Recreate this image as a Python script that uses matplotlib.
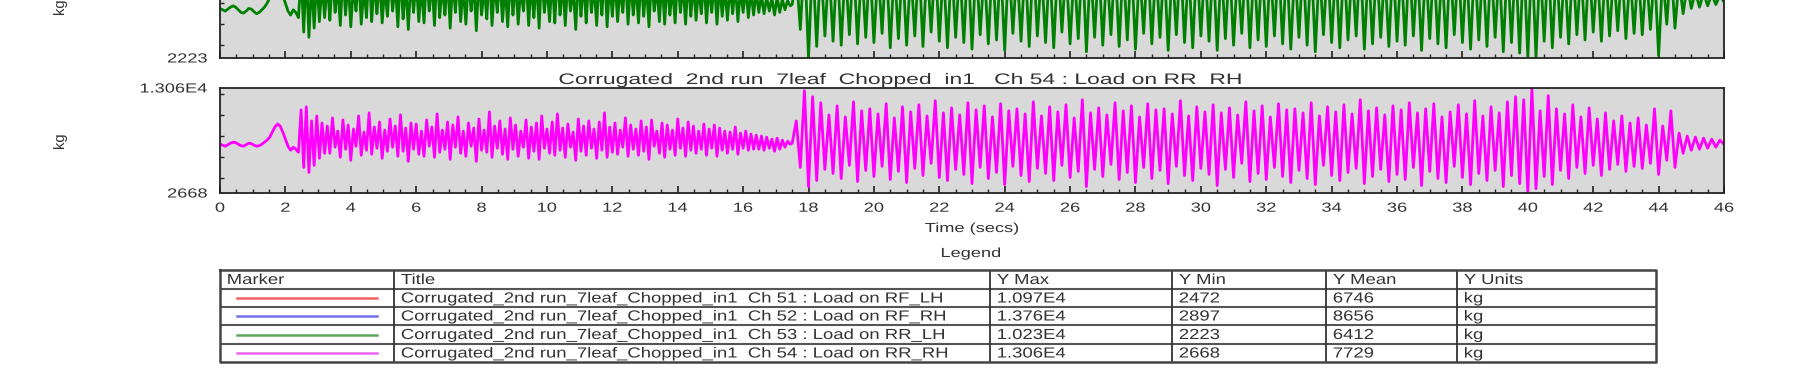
import numpy as np
import matplotlib.pyplot as plt
from matplotlib.ticker import MultipleLocator
from matplotlib.patheffects import AbstractPathEffect
from matplotlib.transforms import Affine2D

plt.rcParams['font.family'] = ['Liberation Sans', 'DejaVu Sans']

# ---- data ----
# sample steps: dense part 0..17.44 s every 0.08 s, oscillating part 17.5..46 s every 0.125 s
dt_dense = 0.08
t_osc0 = 17.5
dt_osc = 0.125

# Ch 53 : Load on RR_LH (green, only lower part visible)
rr_lh_dense = [
    6000, 5900, 5800, 5950, 6100, 6200, 6100, 5900, 5700, 5650, 5800, 6000, 5950, 5750, 5600, 5700, 5900, 6100, 6400, 6800, 7200,
    7600, 7900, 7500, 7000, 6400, 5800, 5500, 5900, 5700, 5300,
    8600, 4200, 8900, 3800, 8100, 4500, 8400, 5000, 7900, 5300,
    8000, 5100, 8600, 5700, 7700, 4700, 8700, 5500, 8200, 4600,
    7800, 5800, 8500, 4800, 7600, 5300, 9000, 5000, 8100, 5600,
    8400, 4900, 7700, 5400, 8500, 5800, 8000, 4600, 8800, 5200,
    7900, 4400, 8300, 5700, 8200, 5000, 7700, 4900, 8600, 5800,
    8100, 4700, 8900, 5300, 7800, 5500, 8400, 4500, 8200, 5700,
    8700, 5000, 7700, 4800, 8300, 5800, 8000, 4300, 8500, 5500,
    7600, 5200, 9000, 4700, 8100, 5700, 8400, 5000, 7800, 4600,
    8600, 5500, 8200, 4800, 7700, 5800, 8500, 4700, 8000, 5300,
    8300, 4500, 8800, 5700, 7800, 5000, 8400, 4900, 8900, 5500,
    8000, 4700, 8300, 5800, 7700, 4400, 8600, 5400, 8200, 4900,
    8500, 5700, 7800, 4700, 8400, 5500, 9000, 4600, 8100, 5400,
    8300, 5000, 7700, 5700, 8600, 4800, 8200, 5500, 7800, 4900,
    8400, 5400, 8000, 4600, 8500, 5800, 7600, 5000, 8300, 4800,
    8200, 5500, 7700, 4900, 8600, 5700, 7800, 4800, 8300, 5400,
    8000, 5100, 7600, 5600, 8200, 4900, 7700, 5700, 8100, 4800,
    7900, 5400, 7600, 5100, 7700, 5600, 7800, 5000, 7500, 5700,
    7600, 5300, 7400, 5500, 7300,
    5700, 7000, 5600, 6900, 5800, 6800, 5500, 6900, 5700, 6700, 5900, 6600, 6200,
]
rr_lh_osc = [
    6300, 8700, 4400, 10200, 2250, 9900, 3100, 9600, 3900, 9300,
    3500, 9700, 3200, 9200, 4000, 9800, 3300, 9400, 3800, 9600,
    3400, 9100, 4100, 9900, 3000, 9300, 3700, 9500, 3200, 9000,
    3900, 9700, 3100, 9400, 4200, 9800, 3500, 9200, 3000, 9600,
    3800, 9300, 3400, 10000, 2900, 9500, 4000, 9100, 3300, 9700,
    3600, 9400, 2800, 9800, 4100, 9200, 3500, 9600, 3100, 9900,
    3900, 9000, 3400, 9500, 3000, 9700, 4200, 9300, 3300, 9100,
    3700, 10100, 2700, 9400, 3800, 9600, 3200, 9200, 4000, 9800,
    3100, 9500, 3600, 9700, 2900, 9100, 4100, 9900, 3300, 9400,
    3800, 9600, 2800, 9300, 4000, 10000, 3400, 9200, 3000, 9700,
    3900, 9500, 3500, 9800, 2800, 9300, 3700, 9600, 3200, 9100,
    4100, 9900, 3000, 9400, 3600, 9700, 3100, 9200, 3900, 9800,
    3300, 9500, 2900, 9300, 3800, 9600, 3200, 9900, 2700, 9200,
    4000, 9700, 3400, 9400, 3000, 9800, 3600, 9300, 3900, 10100,
    2900, 9500, 3300, 9600, 3800, 9100, 3100, 9700, 3500, 9400,
    3200, 9900, 3900, 9300, 2800, 9500, 3700, 9800, 3300, 9200,
    3000, 9600, 4000, 9700, 3400, 9300, 2900, 10000, 3600, 9400,
    3100, 9600, 3800, 9200, 2700, 9900, 3400, 9800, 2600, 10100,
    2240, 10230, 2300, 9500, 3500, 9900, 3000, 9400, 3800, 9200,
    3300, 9600, 4000, 9100, 3600, 9500, 4200, 9000, 3500, 9300,
    3900, 8900, 4300, 9200, 3700, 8800, 4100, 9100, 4000, 8700,
    4400, 9000, 2400, 8600, 4800, 9400, 4500, 8200, 5600, 7800,
    6000, 7300, 6100, 7200, 6200, 7100, 6300, 7000, 6500,
]

# Ch 54 : Load on RR_RH (magenta)
rr_rh_dense = [
    7500, 7400, 7300, 7450, 7600, 7700, 7650, 7500, 7350, 7300, 7450, 7600, 7550, 7400, 7300, 7350, 7500, 7700, 7900, 8200, 8700,
    9200, 9500, 9300, 8700, 8000, 7300, 6900, 7200, 7000, 6700,
    10900, 5200, 11200, 4700, 9800, 5400, 10300, 6100, 9600, 6600,
    9300, 6600, 10100, 7200, 8800, 6200, 9900, 7000, 9400, 5900,
    9000, 7300, 10300, 6400, 8700, 6900, 10600, 6500, 9200, 7100,
    9700, 6100, 8900, 6800, 10000, 7200, 9300, 6300, 10400, 6800,
    9100, 5800, 9600, 7000, 9500, 6500, 8800, 6300, 9900, 7300,
    9200, 6200, 10500, 6700, 8900, 7000, 9700, 6000, 9400, 7200,
    10200, 6600, 8800, 6300, 9600, 7300, 9100, 5800, 10000, 6900,
    8900, 6700, 10700, 6200, 9300, 7100, 9800, 6500, 9000, 6000,
    10100, 7000, 9400, 6300, 8800, 7200, 9900, 6100, 9200, 6800,
    9600, 6000, 10300, 7100, 9000, 6600, 9700, 6400, 10500, 6900,
    9100, 6200, 9500, 7200, 8700, 5900, 10000, 6800, 9300, 6400,
    9800, 7100, 9000, 6100, 9700, 6900, 10600, 6200, 9200, 6700,
    9600, 6500, 8900, 7200, 10100, 6300, 9400, 7000, 9000, 6400,
    9800, 6800, 9200, 6000, 9900, 7300, 8800, 6600, 9600, 6200,
    9400, 7000, 8900, 6400, 10000, 7100, 9100, 6300, 9700, 6900,
    9300, 6600, 8800, 7000, 9500, 6400, 9000, 7100, 9400, 6300,
    9100, 6900, 8800, 6600, 8700, 7000, 9200, 6500, 8600, 7100,
    8800, 6900, 8500, 7000, 8400,
    7000, 8300, 6900, 8200, 7100, 8000, 6800, 8100, 7000, 7900, 7200, 7800, 7500,
]
rr_rh_osc = [
    7600, 9800, 5200, 12800, 3300, 12200, 3900, 11600, 5000, 10400,
    4600, 11300, 4100, 10200, 5400, 11700, 3800, 10800, 4900, 11000,
    4300, 10500, 5300, 11500, 4000, 10100, 4800, 11200, 3700, 10700,
    5100, 11400, 4400, 10300, 5600, 11800, 4200, 10600, 3900, 11100,
    5000, 10400, 4500, 11600, 3600, 10900, 5200, 11300, 4100, 10200,
    4700, 11500, 3500, 10800, 5300, 11000, 4400, 10500, 3800, 11700,
    5100, 10300, 4600, 11200, 3900, 10700, 5400, 11400, 4200, 10100,
    4800, 11900, 3300, 10600, 5000, 11100, 4300, 10400, 5500, 11600,
    4000, 10800, 4700, 11300, 3700, 10200, 5200, 11500, 4100, 10900,
    4900, 11000, 3600, 10500, 5300, 11800, 4400, 10300, 3900, 11200,
    5100, 10700, 4500, 11400, 3400, 10600, 5000, 11100, 4200, 10400,
    5600, 11700, 3800, 10800, 4600, 11300, 4000, 10200, 5200, 11500,
    4300, 10900, 3700, 11000, 4900, 10600, 4100, 11600, 3500, 10300,
    5400, 11200, 4400, 10700, 3900, 11400, 4700, 10500, 5100, 11900,
    3600, 10800, 4300, 11100, 5000, 10400, 3800, 11300, 4500, 10900,
    4000, 11600, 5200, 10600, 3400, 11000, 4800, 11500, 4100, 10200,
    3700, 10700, 5300, 11400, 4200, 10500, 3500, 11800, 4600, 10300,
    3900, 11200, 4900, 10600, 3300, 11700, 4400, 12200, 3600, 11900,
    2700, 13000, 3100, 10800, 4300, 12300, 3500, 11000, 4900, 10500,
    4100, 11400, 5200, 10200, 4600, 11100, 5400, 10000, 4400, 10600,
    5000, 9800, 5500, 10300, 4800, 9600, 5300, 10100, 5100, 9400,
    5600, 11000, 4500, 9300, 5900, 10800, 5200, 8600, 6600, 8300,
    6900, 8200, 7000, 8100, 7100, 8000, 7200, 7900, 7500,
]

rr_lh_lim = (2223, 10230)
rr_rh_lim = (2668, 13060)
rr_lh_ticklabels = ["2223", "1.023E4"]
rr_rh_ticklabels = ["2668", "1.306E4"]
x_max = 46

# legend table
tab_header = ["Marker", "Title", "Y Max", "Y Min", "Y Mean", "Y Units"]
tab_titles = [
    "Corrugated_2nd run_7leaf_Chopped_in1  Ch 51 : Load on RF_LH",
    "Corrugated_2nd run_7leaf_Chopped_in1  Ch 52 : Load on RF_RH",
    "Corrugated_2nd run_7leaf_Chopped_in1  Ch 53 : Load on RR_LH",
    "Corrugated_2nd run_7leaf_Chopped_in1  Ch 54 : Load on RR_RH",
]
tab_ymax = ["1.097E4", "1.376E4", "1.023E4", "1.306E4"]
tab_ymin = ["2472", "2897", "2223", "2668"]
tab_ymean = ["6746", "8656", "6412", "7729"]
tab_units = ["kg", "kg", "kg", "kg"]
marker_colors = ["#f06464", "#7272f0", "#5fa85f", "#f064f0"]


# the source picture has its text stretched sideways, widen the glyphs the same way
class Widen(AbstractPathEffect):
    def __init__(self, sx, anchor):
        super().__init__()
        self.sx = sx
        self.anchor = anchor  # 0 left, 0.5 centre, 1 right

    def draw_path(self, renderer, gc, tpath, affine, rgbFace=None):
        ext = tpath.get_extents()
        cx = ext.x0 + self.anchor * ext.width
        st = Affine2D().translate(-cx, 0).scale(self.sx, 1).translate(cx, 0)
        renderer.draw_path(gc, tpath, st + affine, rgbFace)


TXT = "#333333"
W, H = 1816, 385
fig = plt.figure(figsize=(W / 100, H / 100), dpi=100)


def px_box(left, top, right, bottom):
    return [left / W, 1 - bottom / H, (right - left) / W, (bottom - top) / H]


def time_axis(dense, osc):
    t1 = np.arange(len(dense)) * dt_dense
    t2 = t_osc0 + np.arange(len(osc)) * dt_osc
    return np.concatenate([t1, t2]), np.concatenate([dense, osc])


def style_axes(ax, lim, labels, show_x):
    ax.set_facecolor("#d9d9d9")
    ax.set_xlim(0, x_max)
    ax.set_ylim(*lim)
    ax.set_yticks(lim)
    ax.set_yticklabels(labels)
    ax.yaxis.set_minor_locator(MultipleLocator((lim[1] - lim[0]) / 5))
    ax.xaxis.set_major_locator(MultipleLocator(2))
    ax.xaxis.set_minor_locator(MultipleLocator(0.5))
    ax.tick_params(which="both", direction="in", top=False, right=False,
                   colors="#222222", labelsize=9.5, labelcolor=TXT)
    ax.tick_params(axis="x", which="major", length=5, width=1.2, pad=7)
    ax.tick_params(axis="x", which="minor", length=3, width=1)
    ax.tick_params(axis="y", which="major", length=0, pad=9)
    ax.tick_params(axis="y", which="minor", length=3, width=1)
    if not show_x:
        ax.tick_params(axis="x", labelbottom=False)
    for s in ax.spines.values():
        s.set_linewidth(1.3)
        s.set_color("#222222")
    for lab in ax.get_xticklabels():
        lab.set_path_effects([Widen(1.38, 0.5)])
    for lab in ax.get_yticklabels():
        lab.set_path_effects([Widen(1.38, 1.0)])


ax_g = fig.add_axes(px_box(220, -47, 1724, 58))
t, y = time_axis(rr_lh_dense, rr_lh_osc)
ax_g.plot(t, y, color="#008000", lw=2.0)
style_axes(ax_g, rr_lh_lim, rr_lh_ticklabels, False)

ax_m = fig.add_axes(px_box(220, 88, 1724, 193))
t, y = time_axis(rr_rh_dense, rr_rh_osc)
ax_m.plot(t, y, color="#ff00ff", lw=2.0)
style_axes(ax_m, rr_rh_lim, rr_rh_ticklabels, True)
xl = ax_m.set_xlabel("Time (secs)", fontsize=9.5, color=TXT, labelpad=6)
xl.set_path_effects([Widen(1.38, 0.5)])

fig.text(900 / W, 1 - 80 / H, "Corrugated  2nd run  7leaf  Chopped  in1   Ch 54 : Load on RR  RH",
         ha="center", va="center", fontsize=11, color=TXT, path_effects=[Widen(1.5, 0.5)])
fig.text(60 / W, 1 - 6 / H, "kg", rotation=90, ha="center", va="center", fontsize=10.5, color=TXT)
fig.text(60 / W, 1 - 140 / H, "kg", rotation=90, ha="center", va="center", fontsize=10.5, color=TXT)

# ---- legend table, drawn in pixel coordinates ----
tab = fig.add_axes([0, 0, 1, 1])
tab.set_xlim(0, W)
tab.set_ylim(H, 0)
tab.axis("off")
fig.text(971 / W, 1 - 254 / H, "Legend", ha="center", va="center", fontsize=9.5, color=TXT,
         path_effects=[Widen(1.38, 0.5)])

col_x = [220, 394, 990, 1172, 1326, 1457, 1656]
row_y = [270, 289, 307, 325, 344, 362]
for yy in row_y[1:-1]:
    tab.plot([col_x[0], col_x[-1]], [yy, yy], color="#555555", lw=1.5, solid_capstyle="butt")
for xx in col_x[1:-1]:
    tab.plot([xx, xx], [row_y[0], row_y[-1]], color="#333333", lw=1.3, solid_capstyle="butt")
tab.plot([col_x[0], col_x[-1], col_x[-1], col_x[0], col_x[0]],
         [row_y[0], row_y[0], row_y[-1], row_y[-1], row_y[0]], color="#444444", lw=1.8)


def cell(col, row, s):
    tab.text(col_x[col] + 7, (row_y[row] + row_y[row + 1]) / 2 + 0.5, s,
             ha="left", va="center", fontsize=10.5, color=TXT, path_effects=[Widen(1.27, 0.0)])


for i, h in enumerate(tab_header):
    cell(i, 0, h)
for r in range(len(tab_titles)):
    yc = (row_y[r + 1] + row_y[r + 2]) / 2
    tab.plot([col_x[0] + 17, col_x[1] - 17], [yc, yc], color=marker_colors[r], lw=1.8)
    cell(1, r + 1, tab_titles[r])
    cell(2, r + 1, tab_ymax[r])
    cell(3, r + 1, tab_ymin[r])
    cell(4, r + 1, tab_ymean[r])
    cell(5, r + 1, tab_units[r])

fig.savefig("out.png", dpi=100)
